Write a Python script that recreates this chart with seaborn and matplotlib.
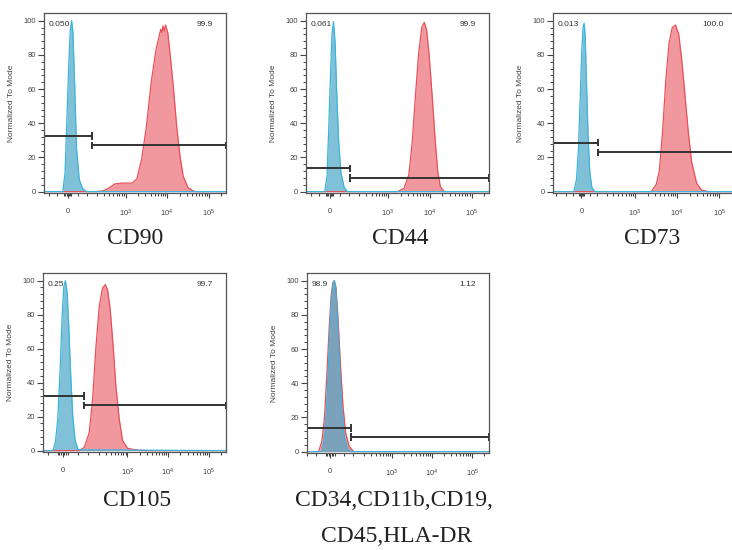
import numpy as np
import matplotlib
matplotlib.use("Agg")
import matplotlib.pyplot as plt
import seaborn as sns
from matplotlib.ticker import FixedLocator, FixedFormatter

sns.set_style("ticks")
plt.rcParams['font.family'] = ['Liberation Sans', 'DejaVu Sans']
plt.rcParams['mathtext.fontset'] = 'custom'
plt.rcParams['mathtext.rm'] = 'Liberation Sans'
plt.rcParams['mathtext.it'] = 'Liberation Sans:italic'

# ---- data (x = fluorescence intensity, y = % of mode) ----
markers = ['CD90', 'CD44', 'CD73', 'CD105', 'CD34,CD11b,CD19,', 'CD45,HLA-DR']

cd90_iso_x = [-138, -22, -11.7, -2.9, 4.4, 11.7, 17.7, 23.7, 31.4, 41, 55, 73, 99, 262144]
cd90_iso_y = [0, 0, 11, 44, 73, 95, 100, 93, 64, 25, 7, 2, 0, 0]
cd90_x = [-138, 186, 290, 412, 537, 838, 1425, 1857, 2424, 3162, 4125, 5380, 7017, 7500,
          7943, 8500, 9150, 10350, 11940, 14250, 17000, 20300, 24300, 31600, 41200, 49000, 262144]
cd90_y = [0, 0, 0.5, 2.5, 4.5, 5, 5, 7.4, 19, 38, 64, 83, 95, 93,
          97, 94, 97.5, 93, 79, 60, 38, 21, 9, 2.5, 0.6, 0, 0]

cd44_iso_x = [-136, -21.7, -11.5, -4.3, 2.9, 10, 17.3, 24.7, 32.2, 41.7, 53.4, 71.4, 92, 262144]
cd44_iso_y = [0, 0, 9, 35, 64, 91, 99.4, 87, 58, 29, 11, 2.5, 0, 0]
cd44_x = [-136, 1700, 2424, 3162, 3776, 4510, 5380, 6430, 7400, 8350, 9660, 11500,
          13500, 15500, 17900, 22200, 262144]
cd44_y = [0, 0, 2, 10, 28, 55, 80, 96, 99, 95, 80, 55, 30, 12, 3, 0, 0]

cd73_iso_x = [-244, -46.7, -29.9, -17.8, -7.9, 2, 9.9, 15.8, 21.9, 29.9, 40.3, 51, 64.6, 86.6, 262144]
cd73_iso_y = [0, 0, 7, 25, 54, 83, 96.5, 98.5, 91, 64, 31, 11, 2.5, 0, 0]
cd73_x = [-244, 2424, 3162, 3776, 4510, 5380, 6430, 7670, 9150, 10900, 13000, 15500,
          18500, 22200, 28900, 37700, 53800, 262144]
cd73_y = [0, 0, 4, 12, 35, 65, 87, 96, 97.5, 92, 76, 55, 34, 17, 5, 1, 0, 0]

cd105_iso_x = [-71, -30.8, -22.3, -14.8, -7.8, -1.95, 2.9, 7.8, 12.9, 17.9, 23.1, 30.8, 39.1, 50.8, 262144]
cd105_iso_y = [0, 0, 5, 19, 48, 79, 96.5, 100, 93, 73, 48, 20.5, 6, 0.5, 0]
cd105_x = [-71, 56, 80.6, 110, 135, 165, 201, 243, 284, 324, 377, 447, 520, 629,
           759, 1004, 1602, 2808, 262144]
cd105_y = [0, 0, 2, 10.7, 30, 61, 85, 95.7, 97.7, 94.7, 83, 61, 38, 18.5,
           6, 1.4, 0.4, 0, 0]

neg_iso_x = [-101, -28.4, -18.9, -11, -3.3, 3.3, 8.8, 13.2, 17.8, 23.6, 30.9, 39.8, 51, 66.8, 85.2, 262144]
neg_iso_y = [0, 0, 9, 30, 63, 88, 98, 100, 97, 80, 54, 26.5, 9, 1.7, 0, 0]
neg_x = [-101, -41.3, -28.4, -18.9, -11, -3.3, 3.3, 8.8, 13.2, 18.9, 25.9, 34.8,
         45.7, 57.3, 74.2, 101.6, 262144]
neg_y = [0, 0, 6, 20.7, 46, 73, 92, 99, 100, 96, 79, 52, 26.5, 11, 3.3, 0, 0]

iso_x = [cd90_iso_x, cd44_iso_x, cd73_iso_x, cd105_iso_x, neg_iso_x]
iso_y = [cd90_iso_y, cd44_iso_y, cd73_iso_y, cd105_iso_y, neg_iso_y]
stain_x = [cd90_x, cd44_x, cd73_x, cd105_x, neg_x]
stain_y = [cd90_y, cd44_y, cd73_y, cd105_y, neg_y]

gate_split = [141, 109, 113, 80.6, 85]
gate_left_y = [32.6, 13.6, 28.7, 32.2, 13.9]
gate_right_y = [27, 8, 22.9, 26.7, 8.7]
pct_left = ['0.050', '0.061', '0.013', '0.25', '98.9']
pct_right = ['99.9', '99.9', '100.0', '99.7', '1.12']

# display settings per panel (pixel boxes, biexponential width, left limit)
boxes = [(44, 13, 226, 193), (306, 13, 489, 193), (553, 13, 737, 193),
         (43, 273, 226, 452), (307, 273, 489, 453)]
lin_width = [80, 80, 108, 52, 57]
x_left = [-138, -136, -244, -71, -101]
x_right = 262144
label_pos = [(135, 238), (400, 238), (652, 238), (137, 500), (394, 500), (397, 536)]

W, H = 732, 550
fig = plt.figure(figsize=(W / 100, H / 100), dpi=100)

red_fill, red_line = '#ec6d75', '#e8505a'
blue_fill, blue_line = '#4aa7c8', '#3cb4dc'
gate_col = '#333333'

minor_x = ([-200, -100, -50, -15, -10, -5, 0, 5, 10, 15, 50, 100]
           + [m * 10 ** e for e in (2, 3, 4) for m in range(2, 10)] + [200000])

for i in range(5):
    l, t, r, b = boxes[i]
    ax = fig.add_axes([l / W, 1 - b / H, (r - l) / W, (b - t) / H])

    sns.lineplot(x=stain_x[i], y=stain_y[i], ax=ax, sort=False, estimator=None,
                 color=red_line, lw=0.9)
    ax.fill_between(stain_x[i], stain_y[i], 0, color=red_fill, alpha=0.7, lw=0)
    sns.lineplot(x=iso_x[i], y=iso_y[i], ax=ax, sort=False, estimator=None,
                 color=blue_line, lw=0.9)
    ax.fill_between(iso_x[i], iso_y[i], 0, color=blue_fill, alpha=0.7, lw=0)

    ax.set_xscale('asinh', linear_width=lin_width[i])
    ax.set_xlim(x_left[i], x_right)
    ax.set_ylim(-0.8, 104.5)

    # gates
    s = gate_split[i]
    ax.hlines(gate_left_y[i], x_left[i], s, color=gate_col, lw=1.4)
    ax.hlines(gate_right_y[i], s, x_right, color=gate_col, lw=1.4)
    ax.vlines([s], gate_left_y[i] - 2.2, gate_left_y[i] + 2.2, color=gate_col, lw=1.4)
    ax.vlines([s, x_right], gate_right_y[i] - 2.2, gate_right_y[i] + 2.2,
              color=gate_col, lw=1.4, clip_on=False)

    ax.text(0.025, 0.935, pct_left[i], transform=ax.transAxes, fontsize=6,
            color='#333333', va='center', ha='left')
    ax.text(0.93, 0.935, pct_right[i], transform=ax.transAxes, fontsize=6,
            color='#333333', va='center', ha='right')

    ax.xaxis.set_major_locator(FixedLocator([0, 1e3, 1e4, 1e5]))
    ax.xaxis.set_major_formatter(FixedFormatter(['0', '$10^3$', '$10^4$', '$10^5$']))
    ax.xaxis.set_minor_locator(FixedLocator(minor_x))
    ax.yaxis.set_major_locator(FixedLocator([0, 20, 40, 60, 80, 100]))
    ax.yaxis.set_minor_locator(FixedLocator(list(range(0, 101, 4))))

    ax.tick_params(axis='x', which='major', length=3.5, width=0.8, pad=7,
                   labelsize=5.5, colors='#444444')
    ax.tick_params(axis='x', which='minor', length=2, width=0.8, colors='#444444')
    ax.tick_params(axis='y', which='major', length=4, width=0.8, pad=1.5,
                   labelsize=5.5, colors='#444444')
    ax.tick_params(axis='y', which='minor', length=2, width=0.7, colors='#444444')

    for sp in ax.spines.values():
        sp.set_visible(True)
        sp.set_color('#555555')
        sp.set_linewidth(0.9)

    ax.set_xlabel('')
    ax.set_ylabel('Normalized To Mode', fontsize=6, color='#444444')
    ax.yaxis.set_label_coords(-29 / (r - l), 0.5)

for name, (lx, ly) in zip(markers, label_pos):
    fig.text(lx / W, 1 - ly / H, name, fontsize=17, family='Liberation Serif',
             color='#222222', ha='center', va='center')

fig.savefig('out.png', dpi=100)
